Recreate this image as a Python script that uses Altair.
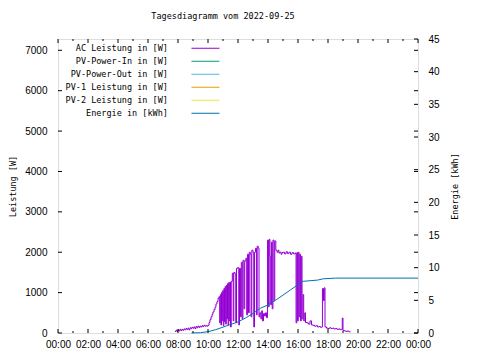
import json
import altair as alt
import pandas as pd

# ---- data -------------------------------------------------------------
series_names = ["AC Leistung in [W]", "PV-Power-In in [W]", "PV-Power-Out in [W]",
                "PV-1 Leistung in [W]", "PV-2 Leistung in [W]", "Energie in [kWh]"]
series_colors = ["#9400d3", "#009e73", "#56b4e9", "#e69f00", "#f0e442", "#0072b2"]

ac_t = [7.80, 7.87, 7.93, 8.00, 8.07, 8.13, 8.20, 8.27, 8.33, 8.40, 8.47, 8.53, 8.60, 8.67,
        8.73, 8.80, 8.87, 8.93, 9.00, 9.07, 9.13, 9.20, 9.27, 9.33, 9.40, 9.47, 9.53, 9.60,
        9.67, 9.73, 9.80, 9.87, 9.93, 10.00, 10.07, 10.13, 10.20, 10.27, 10.33, 10.40, 10.47,
        10.53, 10.60, 10.67, 10.73, 10.78, 10.82, 10.86, 10.90, 10.94, 10.98, 11.02, 11.06,
        11.10, 11.14, 11.18, 11.22, 11.26, 11.30, 11.34, 11.38, 11.42, 11.46, 11.50, 11.55,
        11.62, 11.68, 11.72, 11.80, 11.85, 11.90, 11.98, 12.05, 12.10, 12.17, 12.22, 12.28,
        12.33, 12.40, 12.45, 12.52, 12.58, 12.63, 12.70, 12.75, 12.82, 12.87, 12.92, 13.00,
        13.05, 13.10, 13.17, 13.23, 13.28, 13.35, 13.40, 13.45, 13.52, 13.58, 13.63, 13.70,
        13.77, 13.83, 13.90, 13.97, 14.03, 14.08, 14.13, 14.18, 14.23, 14.28, 14.33, 14.40,
        14.45, 14.52, 14.60, 14.67, 14.73, 14.80, 14.87, 14.93, 15.00, 15.10, 15.20, 15.30,
        15.40, 15.50, 15.60, 15.70, 15.80, 15.87, 15.92, 15.97, 16.02, 16.07, 16.12, 16.17,
        16.22, 16.27, 16.33, 16.38, 16.45, 16.50, 16.60, 16.70, 16.80, 16.90, 17.00, 17.10,
        17.20, 17.30, 17.40, 17.50, 17.58, 17.63, 17.70, 17.75, 17.80, 17.90, 18.00, 18.10,
        18.20, 18.30, 18.40, 18.50, 18.60, 18.70, 18.80, 18.90, 18.95, 19.00, 19.10, 19.20,
        19.30, 19.40, 19.50]
ac_w = [40, 70, 40, 80, 50, 90, 60, 90, 70, 100, 80, 110, 90, 120,
        80, 130, 110, 140, 120, 150, 110, 160, 130, 170, 140, 170, 150, 180,
        160, 190, 170, 180, 170, 190, 260, 330, 400, 460, 520, 580, 640,
        720, 780, 860, 900, 250, 950, 200, 1000, 300, 1050, 180, 1100,
        280, 1150, 220, 1180, 350, 1220, 200, 1250, 300, 1260, 150, 1280,
        1480, 300, 1500, 1460, 250, 1600, 1620, 200, 1600, 400, 1750, 350,
        1800, 600, 1780, 1850, 450, 1950, 500, 2000, 1950, 400, 2050, 1980,
        150, 2000, 2100, 450, 2150, 2100, 400, 500, 350, 550, 300, 480,
        420, 500, 380, 2300, 650, 2320, 1900, 700, 2250, 600, 2300, 800,
        2280, 2050, 2000, 2050, 1980, 2000, 1950, 1990, 2000, 1960, 2010, 1970,
        2000, 1950, 1990, 1960, 1980, 250, 1990, 300, 2000, 400, 1950, 300,
        1900, 350, 950, 300, 500, 260, 250, 220, 300, 200, 190, 170,
        180, 150, 160, 140, 150, 1100, 800, 1120, 150, 120, 110, 130,
        110, 120, 100, 110, 90, 100, 90, 80, 370, 60, 50, 40,
        50, 30, 30]

en_t = [8.9, 9.5, 10.0, 10.5, 11.0, 11.5, 12.0, 12.5, 13.0, 13.5, 14.0, 14.5, 15.0, 15.5,
        16.0, 16.3, 16.8, 17.3, 17.7, 18.5, 24.0]
en_kwh = [0.0, 0.05, 0.2, 0.5, 0.9, 1.3, 1.7, 2.3, 3.0, 3.8, 4.3, 5.0, 5.8, 6.6,
          7.4, 7.9, 8.0, 8.1, 8.3, 8.4, 8.4]

x_ticks = list(range(0, 25, 2))
x_labels = ["00:00", "02:00", "04:00", "06:00", "08:00", "10:00", "12:00",
            "14:00", "16:00", "18:00", "20:00", "22:00", "00:00"]
x_minor = list(range(1, 24, 2))
w_ticks = [0, 1000, 2000, 3000, 4000, 5000, 6000, 7000]
e_ticks = [0, 5, 10, 15, 20, 25, 30, 35, 40, 45]

W_MAX = 7280
E_MAX = 45
FONT = "DejaVu Sans Mono"
FS = 8.5

ac_df = pd.DataFrame({"t": ac_t, "v": ac_w, "s": series_names[0]})
en_df = pd.DataFrame({"t": en_t, "v": en_kwh, "s": series_names[5]})

xscale = alt.Scale(domain=[0, 24], nice=False, zero=False)
wscale = alt.Scale(domain=[0, W_MAX], nice=False)
escale = alt.Scale(domain=[0, E_MAX], nice=False)

color = alt.Color(
    "s:N",
    scale=alt.Scale(domain=series_names, range=series_colors),
    legend=alt.Legend(
        title=None, orient="none", legendX=100, legendY=5,
        symbolType="M-5,0H5", symbolSize=31.36, symbolStrokeWidth=1,
        labelAlign="right", labelOffset={"expr": "-41.8"}, symbolOffset=43.2,
        labelFont=FONT, labelFontSize=FS, labelColor="black",
        rowPadding=4, padding=0, labelLimit=300,
    ),
)

label_expr = json.dumps(x_labels) + "[round(datum.value / 2)]"
x_axis = alt.Axis(values=x_ticks, labelExpr=label_expr, title=None, ticks=False,
                  domain=False, grid=False, labelPadding=6, labelFlush=False,
                  labelOverlap=False, labelBound=False, labelSeparation=0)

ac = alt.Chart(ac_df).mark_line(strokeWidth=1, interpolate="step-after").encode(
    x=alt.X("t:Q", scale=xscale, axis=x_axis),
    y=alt.Y("v:Q", scale=wscale,
            axis=alt.Axis(values=w_ticks, orient="left", title="Leistung [W]", ticks=False,
                          domain=False, grid=False, labelPadding=11, format="d",
                          labelOverlap=False,
                          titleX=-46, titleY=147, titleAngle=270, titleAlign="center",
                          titleBaseline="middle", titleFontWeight="normal",
                          titleFont=FONT, titleFontSize=FS)),
    color=color,
)

en = alt.Chart(en_df).mark_line(strokeWidth=1).encode(
    x=alt.X("t:Q", scale=xscale, axis=x_axis),
    y=alt.Y("v:Q", scale=escale,
            axis=alt.Axis(values=e_ticks, orient="right", title="Energie [kWh]", ticks=False,
                          domain=False, grid=False, labelPadding=10, format="d",
                          labelOverlap=False,
                          titleX=36, titleY=147, titleAngle=270, titleAlign="center",
                          titleBaseline="middle", titleFontWeight="normal",
                          titleFont=FONT, titleFontSize=FS)),
    color=color,
)

major_df = pd.DataFrame({"t": x_ticks})
minor_df = pd.DataFrame({"t": x_minor})
wt_df = pd.DataFrame({"v": w_ticks})
et_df = pd.DataFrame({"v": e_ticks})

def xtick(df, y1, y2):
    return alt.Chart(df).mark_rule(color="black", strokeWidth=1).encode(
        x=alt.X("t:Q", scale=xscale, axis=x_axis), y=alt.value(y1), y2=alt.value(y2))

def ytick(df, sc, x1, x2):
    return alt.Chart(df).mark_rule(color="black", strokeWidth=1).encode(
        y=alt.Y("v:Q", scale=sc, axis=None), x=alt.value(x1), x2=alt.value(x2))

H = 294
Wd = 360
ticks = [
    xtick(major_df, H, H - 4), xtick(minor_df, H, H - 2),
    xtick(major_df, 0, 4), xtick(minor_df, 0, 2),
    ytick(wt_df, wscale, 0, 4), ytick(wt_df, wscale, Wd, Wd - 4),
    ytick(et_df, escale, Wd, Wd - 4),
]

chart = alt.layer(ac, en, *ticks).resolve_scale(y="independent").properties(
    width=Wd, height=H,
    title=alt.TitleParams("Tagesdiagramm vom 2022-09-25", font=FONT, fontSize=FS,
                          fontWeight="normal", anchor="middle", dx=-15, offset=14,
                          color="black"),
    autosize=alt.AutoSizeParams(type="none"),
    padding={"left": 50, "top": 31, "right": 54, "bottom": 19},
).configure_view(stroke="black", strokeWidth=1).configure_axis(
    labelFont=FONT, labelFontSize=FS, titleFont=FONT, titleFontSize=FS,
    titleFontWeight="normal", labelColor="black", titleColor="black",
    labelOverlap=False,
).configure(background="white")

chart.save("out.html", embed_options={"renderer": "svg", "actions": False})
